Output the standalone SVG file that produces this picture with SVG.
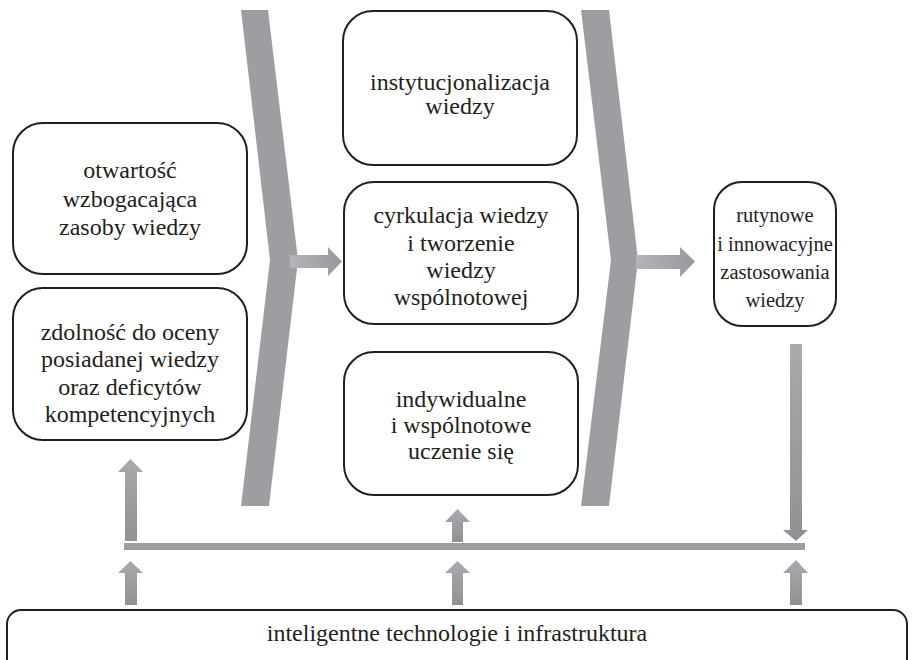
<svg xmlns="http://www.w3.org/2000/svg" width="914" height="660" viewBox="0 0 914 660">
  <defs>
    <style>
      .box { fill: #ffffff; stroke: #231f20; stroke-width: 2; }
      .lbl { font-size: 24px; fill: #231f20; text-anchor: middle; }
      .sm { font-size: 20.5px; }
      .chev { fill: #9d9ea2; }
      .bar { fill: #9d9ea2; }
      .up { fill: url(#gv); }
      .right { fill: url(#gh); }
    </style>
    <linearGradient id="gv" x1="0" y1="0" x2="0" y2="1">
      <stop offset="0" stop-color="#a9aaad"/>
      <stop offset="1" stop-color="#909195"/>
    </linearGradient>
    <linearGradient id="gh" x1="0" y1="0" x2="1" y2="0">
      <stop offset="0" stop-color="#b4b5b8"/>
      <stop offset="1" stop-color="#97989c"/>
    </linearGradient>
  </defs>

  <!-- chevron bands -->
  <g id="chevron-1">
    <polygon class="chev" points="241,10 268,10 298,260 269,506 241,506 270,260"/>
  </g>
  <g id="chevron-2">
    <polygon class="chev" points="581,10 609,10 638,260 609,506 581,506 611,260"/>
  </g>

  <!-- connectors -->
  <g id="connectors">
    <!-- horizontal arrows out of the chevrons -->
    <polygon class="right" points="290,255 328,255 328,247 342,261.5 328,276 328,268 290,268"/>
    <polygon class="right" points="636,255 680,255 680,247 695,261.5 680,277 680,269 636,269"/>
    <!-- shared bar -->
    <rect class="bar" x="124" y="543" width="681" height="7"/>
    <!-- arrows up from the bar -->
    <polygon class="up" points="125,541 125,472 118,472 130.5,459 143,472 137,472 137,541"/>
    <polygon class="up" points="452,542 452,522 445,522 457.5,509 470,522 463,522 463,542"/>
    <!-- arrow down into the bar -->
    <polygon class="up" points="790,344 802,344 802,530 808,530 796,541 783,530 790,530"/>
    <!-- arrows up from the infrastructure -->
    <polygon class="up" points="125,605 125,573 118,573 130.5,561 143,573 137,573 137,605"/>
    <polygon class="up" points="452,605 452,573 445,573 457.5,561 470,573 463,573 463,605"/>
    <polygon class="up" points="790,605 790,573 783,573 796,560 808,573 802,573 802,605"/>
  </g>

  <!-- nodes -->
  <g font-family="'Liberation Serif', 'Times New Roman', 'DejaVu Serif', serif">
    <g id="otwartosc">
      <rect class="box" x="13" y="123" width="234" height="151" rx="30"/>
      <text class="lbl" x="130" y="178">otwartość</text>
      <text class="lbl" x="130" y="207">wzbogacająca</text>
      <text class="lbl" x="130" y="235">zasoby wiedzy</text>
    </g>
    <g id="zdolnosc">
      <rect class="box" x="13" y="288" width="234" height="152" rx="30"/>
      <text class="lbl" x="130" y="340">zdolność do oceny</text>
      <text class="lbl" x="130" y="367">posiadanej wiedzy</text>
      <text class="lbl" x="130" y="395">oraz deficytów</text>
      <text class="lbl" x="130" y="422">kompetencyjnych</text>
    </g>
    <g id="instytucjonalizacja">
      <rect class="box" x="343" y="11" width="234" height="154" rx="30"/>
      <text class="lbl" x="460" y="90">instytucjonalizacja</text>
      <text class="lbl" x="460" y="114">wiedzy</text>
    </g>
    <g id="cyrkulacja">
      <rect class="box" x="344" y="182" width="234" height="142" rx="30"/>
      <text class="lbl" x="461" y="223">cyrkulacja wiedzy</text>
      <text class="lbl" x="461" y="251">i tworzenie</text>
      <text class="lbl" x="461" y="278">wiedzy</text>
      <text class="lbl" x="461" y="305">wspólnotowej</text>
    </g>
    <g id="uczenie">
      <rect class="box" x="344" y="352" width="234" height="143" rx="30"/>
      <text class="lbl" x="461" y="407">indywidualne</text>
      <text class="lbl" x="461" y="433">i wspólnotowe</text>
      <text class="lbl" x="461" y="459">uczenie się</text>
    </g>
    <g id="zastosowania">
      <rect class="box" x="714" y="182" width="122" height="144" rx="28"/>
      <text class="lbl sm" x="775" y="222">rutynowe</text>
      <text class="lbl sm" x="775" y="251">i innowacyjne</text>
      <text class="lbl sm" x="775" y="279">zastosowania</text>
      <text class="lbl sm" x="775" y="307">wiedzy</text>
    </g>
    <g id="infrastruktura">
      <rect class="box" x="7" y="610" width="900" height="80" rx="14"/>
      <text class="lbl" x="457" y="641">inteligentne technologie i infrastruktura</text>
    </g>
  </g>
</svg>
